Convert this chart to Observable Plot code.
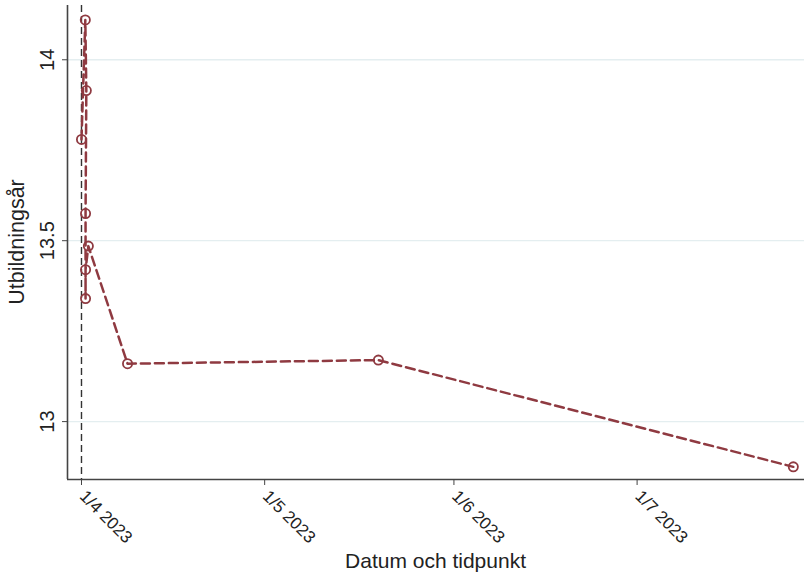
<!DOCTYPE html>
<html>
<head>
<meta charset="utf-8">
<script src="https://cdn.jsdelivr.net/npm/d3@7"></script>
<script src="https://cdn.jsdelivr.net/npm/@observablehq/plot@0.6"></script>
<style>
  html, body { margin: 0; padding: 0; background: #fff; }
  #chart svg { display: block; }
</style>
</head>
<body>
<div id="chart"></div>
<script>
// Data (dates as ISO timestamps, values in Utbildningsår)
const timestamps = [
  "2023-04-01T00:00", "2023-04-01T15:00", "2023-04-01T19:00", "2023-04-01T16:00",
  "2023-04-01T16:00", "2023-04-01T16:00", "2023-04-02T03:00",
  "2023-04-08T13:00", "2023-05-19T15:00", "2023-07-26T14:00"
];
const values = [13.78, 14.11, 13.915, 13.575, 13.34, 13.42, 13.485, 13.16, 13.17, 12.875];
const xTickDates = ["2023-04-01", "2023-05-01", "2023-06-01", "2023-07-01"];
const xTickLabels = ["1/4 2023", "1/5 2023", "1/6 2023", "1/7 2023"];
const yTicks = [13, 13.5, 14];
const refDate = "2023-04-01T00:00";
const xDomain = ["2023-03-29T17:00", "2023-07-28T10:00"];
const yDomain = [12.84, 14.15];

const parse = s => new Date(s);
const data = timestamps.map((t, i) => ({ t: parse(t), v: values[i] }));
const xt = xTickDates.map((d, i) => ({ t: parse(d + "T00:00"), label: xTickLabels[i] }));

const col = "#8f3a41";
const font = "'Liberation Sans', Arial, Helvetica, sans-serif";

const chart = Plot.plot({
  width: 804,
  height: 574,
  marginLeft: 67,
  marginRight: 0,
  marginTop: 5,
  marginBottom: 95,
  style: { fontFamily: font, background: "#fff" },
  x: { type: "time", domain: xDomain.map(parse) },
  y: { type: "linear", domain: yDomain },
  marks: [
    Plot.gridY(yTicks, { stroke: "#e4eef0", strokeOpacity: 1, strokeWidth: 1.3 }),
    Plot.ruleX([parse(refDate)], { stroke: "#333", strokeWidth: 1.4, strokeDasharray: "7,4" }),
    Plot.ruleY([yDomain[0]], { stroke: "#444", strokeWidth: 1.6 }),
    Plot.ruleX([parse(xDomain[0])], { stroke: "#444", strokeWidth: 1.6 }),
    Plot.axisX(xt.map(d => d.t), { tickSize: 6, tickFormat: () => "", stroke: "#444", label: null }),
    Plot.text(xt, { x: "t", y: () => yDomain[0], text: "label", rotate: 45, textAnchor: "start",
      lineAnchor: "middle", dy: 14, dx: 1, fontSize: 17, fill: "#222" }),
    Plot.axisY(yTicks, { tickSize: 5, tickFormat: () => "", stroke: "#444", label: null }),
    Plot.text(yTicks, { x: () => parse(xDomain[0]), y: d => d, text: d => String(d), rotate: -90,
      textAnchor: "middle", lineAnchor: "bottom", dx: -14, fontSize: 20, fill: "#222" }),
    Plot.lineY(data, { x: "t", y: "v", stroke: col, strokeWidth: 2.5, strokeDasharray: "9,5" }),
    Plot.dot(data, { x: "t", y: "v", r: 4.6, stroke: col, strokeWidth: 1.8, fill: "none" })
  ]
});

const svg = d3.select(chart);
svg.append("text")
  .attr("x", (67 + 804) / 2).attr("y", 568)
  .attr("text-anchor", "middle")
  .attr("font-family", font).attr("font-size", 21).attr("fill", "#222")
  .text("Datum och tidpunkt");
svg.append("text")
  .attr("transform", "translate(24," + ((5 + 479) / 2) + ") rotate(-90)")
  .attr("text-anchor", "middle")
  .attr("font-family", font).attr("font-size", 21.5).attr("fill", "#222")
  .text("Utbildningsår");

document.getElementById("chart").appendChild(chart);
</script>
</body>
</html>
